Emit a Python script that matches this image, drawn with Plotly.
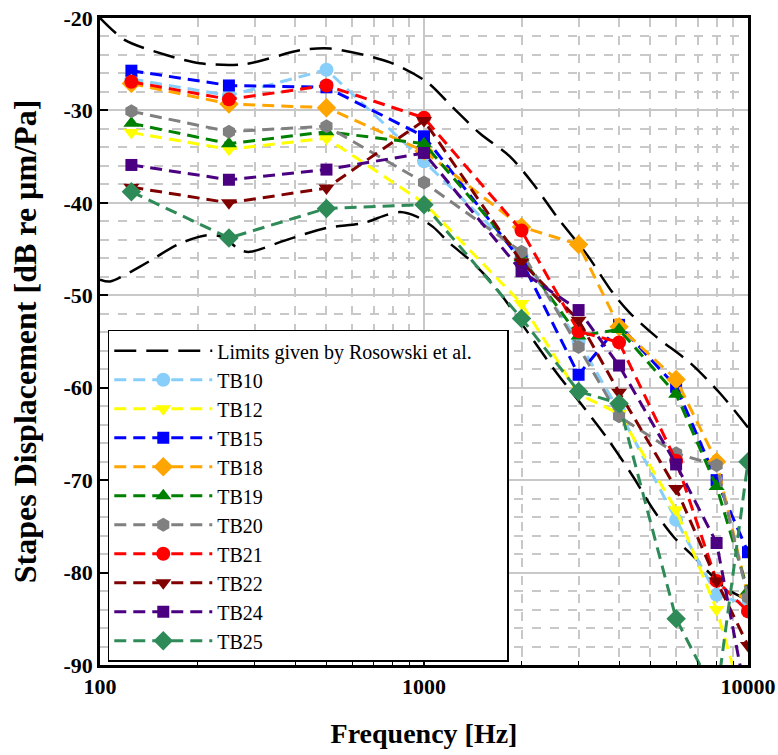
import plotly.graph_objects as go

# ---------------- data ----------------
freqs = [125, 250, 500, 1000, 2000, 3000, 4000, 6000, 8000, 10000]

TB10 = [-26.6, -28.4, -25.6, -35.5, -45.8, -55.0, -62.5, -74.3, -82.4, -83.5]
TB12 = [-32.4, -34.2, -33.0, -40.0, -50.9, -60.7, -62.8, -73.2, -84.0, -95.8]
TB15 = [-25.7, -27.3, -27.5, -32.8, -46.3, -58.6, -53.2, -59.9, -70.0, -77.8]
TB18 = [-27.1, -29.3, -29.7, -34.4, -42.6, -44.5, -53.4, -59.1, -68.0, -82.5]
TB19 = [-31.4, -33.6, -32.3, -33.6, -45.9, -54.4, -53.7, -60.7, -70.7, -82.0]
TB20 = [-30.1, -32.3, -31.7, -37.8, -45.3, -55.6, -63.1, -67.1, -68.4, -82.7]
TB21 = [-26.9, -28.8, -27.3, -30.8, -43.0, -53.9, -55.1, -67.9, -80.9, -84.2]
TB22 = [-38.3, -40.0, -38.4, -31.1, -46.4, -52.7, -60.5, -70.9, -80.9, -87.9]
TB24 = [-35.9, -37.5, -36.4, -34.6, -47.4, -51.6, -57.6, -68.3, -76.8, -94.5]
TB25 = [-38.8, -43.8, -40.6, -40.2, -52.5, -60.4, -61.7, -85.0, -93.5, -68.0]

upper_f = [100, 119.5, 160, 203, 280, 414, 513, 785, 1019, 1229, 1489, 1843, 2168,
           2570, 3182, 3837, 4316, 5213, 6622, 8196, 10000]
upper_db = [-20.0, -22.4, -24.0, -24.9, -25.0, -23.5, -23.3, -24.8, -26.9, -29.7, -32.5,
            -35.0, -37.9, -41.5, -45.6, -49.8, -51.9, -54.5, -57.3, -60.6, -64.3]

lower_f = [100, 107.4, 132.9, 176.6, 213.5, 240, 270, 290, 377, 501, 648, 767, 844, 950,
           1066, 1203, 1387, 1561, 1754, 2168, 2568, 3030, 3664, 4416, 5104, 5882, 6944,
           8390, 10000]
lower_db = [-48.3, -48.5, -46.9, -44.4, -43.5, -43.7, -45.1, -45.3, -44.0, -42.7, -42.2,
            -41.3, -41.0, -41.5, -42.6, -44.4, -46.2, -48.0, -50.2, -54.8, -58.4, -61.6,
            -65.4, -69.6, -73.2, -76.1, -78.6, -81.5, -83.0]

series_names = ["TB10", "TB12", "TB15", "TB18", "TB19", "TB20", "TB21", "TB22", "TB24", "TB25"]
series_values = [TB10, TB12, TB15, TB18, TB19, TB20, TB21, TB22, TB24, TB25]
series_colors = ["#87CEFA", "#FFFF00", "#0000FF", "#FFA500", "#008000", "#808080",
                 "#FF0000", "#800000", "#4B0082", "#2E8B57"]
series_symbols = ["circle", "triangle-down", "square", "diamond", "triangle-up", "hexagon",
                  "circle", "triangle-down", "square", "diamond"]
series_sizes = [14, 14, 12, 15, 14, 14, 14, 14, 12, 15]

limits_label = "Limits given by Rosowski et al." + "\u00a0" * 6
x_tickvals = [100, 1000, 10000]
x_ticktext = ["100", "1000", "10000"]
x_minor = [200, 300, 400, 500, 600, 700, 800, 900, 2000, 3000, 4000, 5000, 6000, 7000, 8000, 9000]
y_tickvals = [-20, -30, -40, -50, -60, -70, -80, -90]
y_ticktext = ["-20", "-30", "-40", "-50", "-60", "-70", "-80", "-90"]

SERIF = "Liberation Serif, Times New Roman, Tinos, serif"

fig = go.Figure()

fig.add_trace(go.Scatter(
    x=upper_f, y=upper_db, mode="lines", name=limits_label, legendgroup="lim",
    line=dict(color="black", width=2.5, dash="22px,10px", shape="spline", smoothing=0.8),
))
fig.add_trace(go.Scatter(
    x=lower_f, y=lower_db, mode="lines", name=limits_label, legendgroup="lim",
    showlegend=False,
    line=dict(color="black", width=2.5, dash="22px,10px", shape="spline", smoothing=0.8),
))

for name, vals, col, sym, sz in zip(series_names, series_values, series_colors,
                                    series_symbols, series_sizes):
    fig.add_trace(go.Scatter(
        x=freqs, y=vals, mode="lines+markers", name=name,
        line=dict(color=col, width=3, dash="12px,7px"),
        marker=dict(color=col, symbol=sym, size=sz, line=dict(width=0)),
    ))

fig.update_layout(
    width=778, height=755,
    margin=dict(l=100, r=30, t=18, b=90, autoexpand=False),
    paper_bgcolor="white", plot_bgcolor="white",
    font=dict(family=SERIF, color="black"),
    showlegend=True,
    legend=dict(
        x=0.012, y=0.005, xanchor="left", yanchor="bottom",
        bgcolor="white", bordercolor="black", borderwidth=1.5,
        font=dict(family=SERIF, size=20, color="black"),
        itemwidth=98, tracegroupgap=0,
    ),
)

fig.update_xaxes(
    type="log", range=[2, 4], automargin=False,
    tickmode="array", tickvals=x_tickvals, ticktext=x_ticktext,
    tickfont=dict(family=SERIF, size=22, weight="bold", color="black"),
    ticks="inside", ticklen=8, tickwidth=2, tickcolor="black",
    showline=True, linecolor="black", linewidth=2.5, mirror=True,
    showgrid=True, gridcolor="#c8c8c8", gridwidth=1.5,
    minor=dict(tickmode="array", tickvals=x_minor, showgrid=True, gridcolor="#c8c8c8",
               gridwidth=1.5, griddash="dash", ticks="inside", ticklen=4,
               tickcolor="black", tickwidth=1),
    title=dict(text="Frequency [Hz]", font=dict(family=SERIF, size=28, weight="bold"),
               standoff=26),
    zeroline=False,
)
fig.update_yaxes(
    range=[-90, -20], automargin=False,
    tickmode="array", tickvals=y_tickvals, ticktext=y_ticktext,
    tickfont=dict(family=SERIF, size=22, weight="bold", color="black"),
    ticks="inside", ticklen=8, tickwidth=2, tickcolor="black",
    showline=True, linecolor="black", linewidth=2.5, mirror=True,
    showgrid=True, gridcolor="#c8c8c8", gridwidth=1.5,
    minor=dict(dtick=2, showgrid=True, gridcolor="#c8c8c8", gridwidth=1.5, griddash="dash"),
    title=dict(text="Stapes Displacement [dB re µm/Pa]",
               font=dict(family=SERIF, size=32, weight="bold"), standoff=18),
    zeroline=False,
)

fig.write_html("out.html")
